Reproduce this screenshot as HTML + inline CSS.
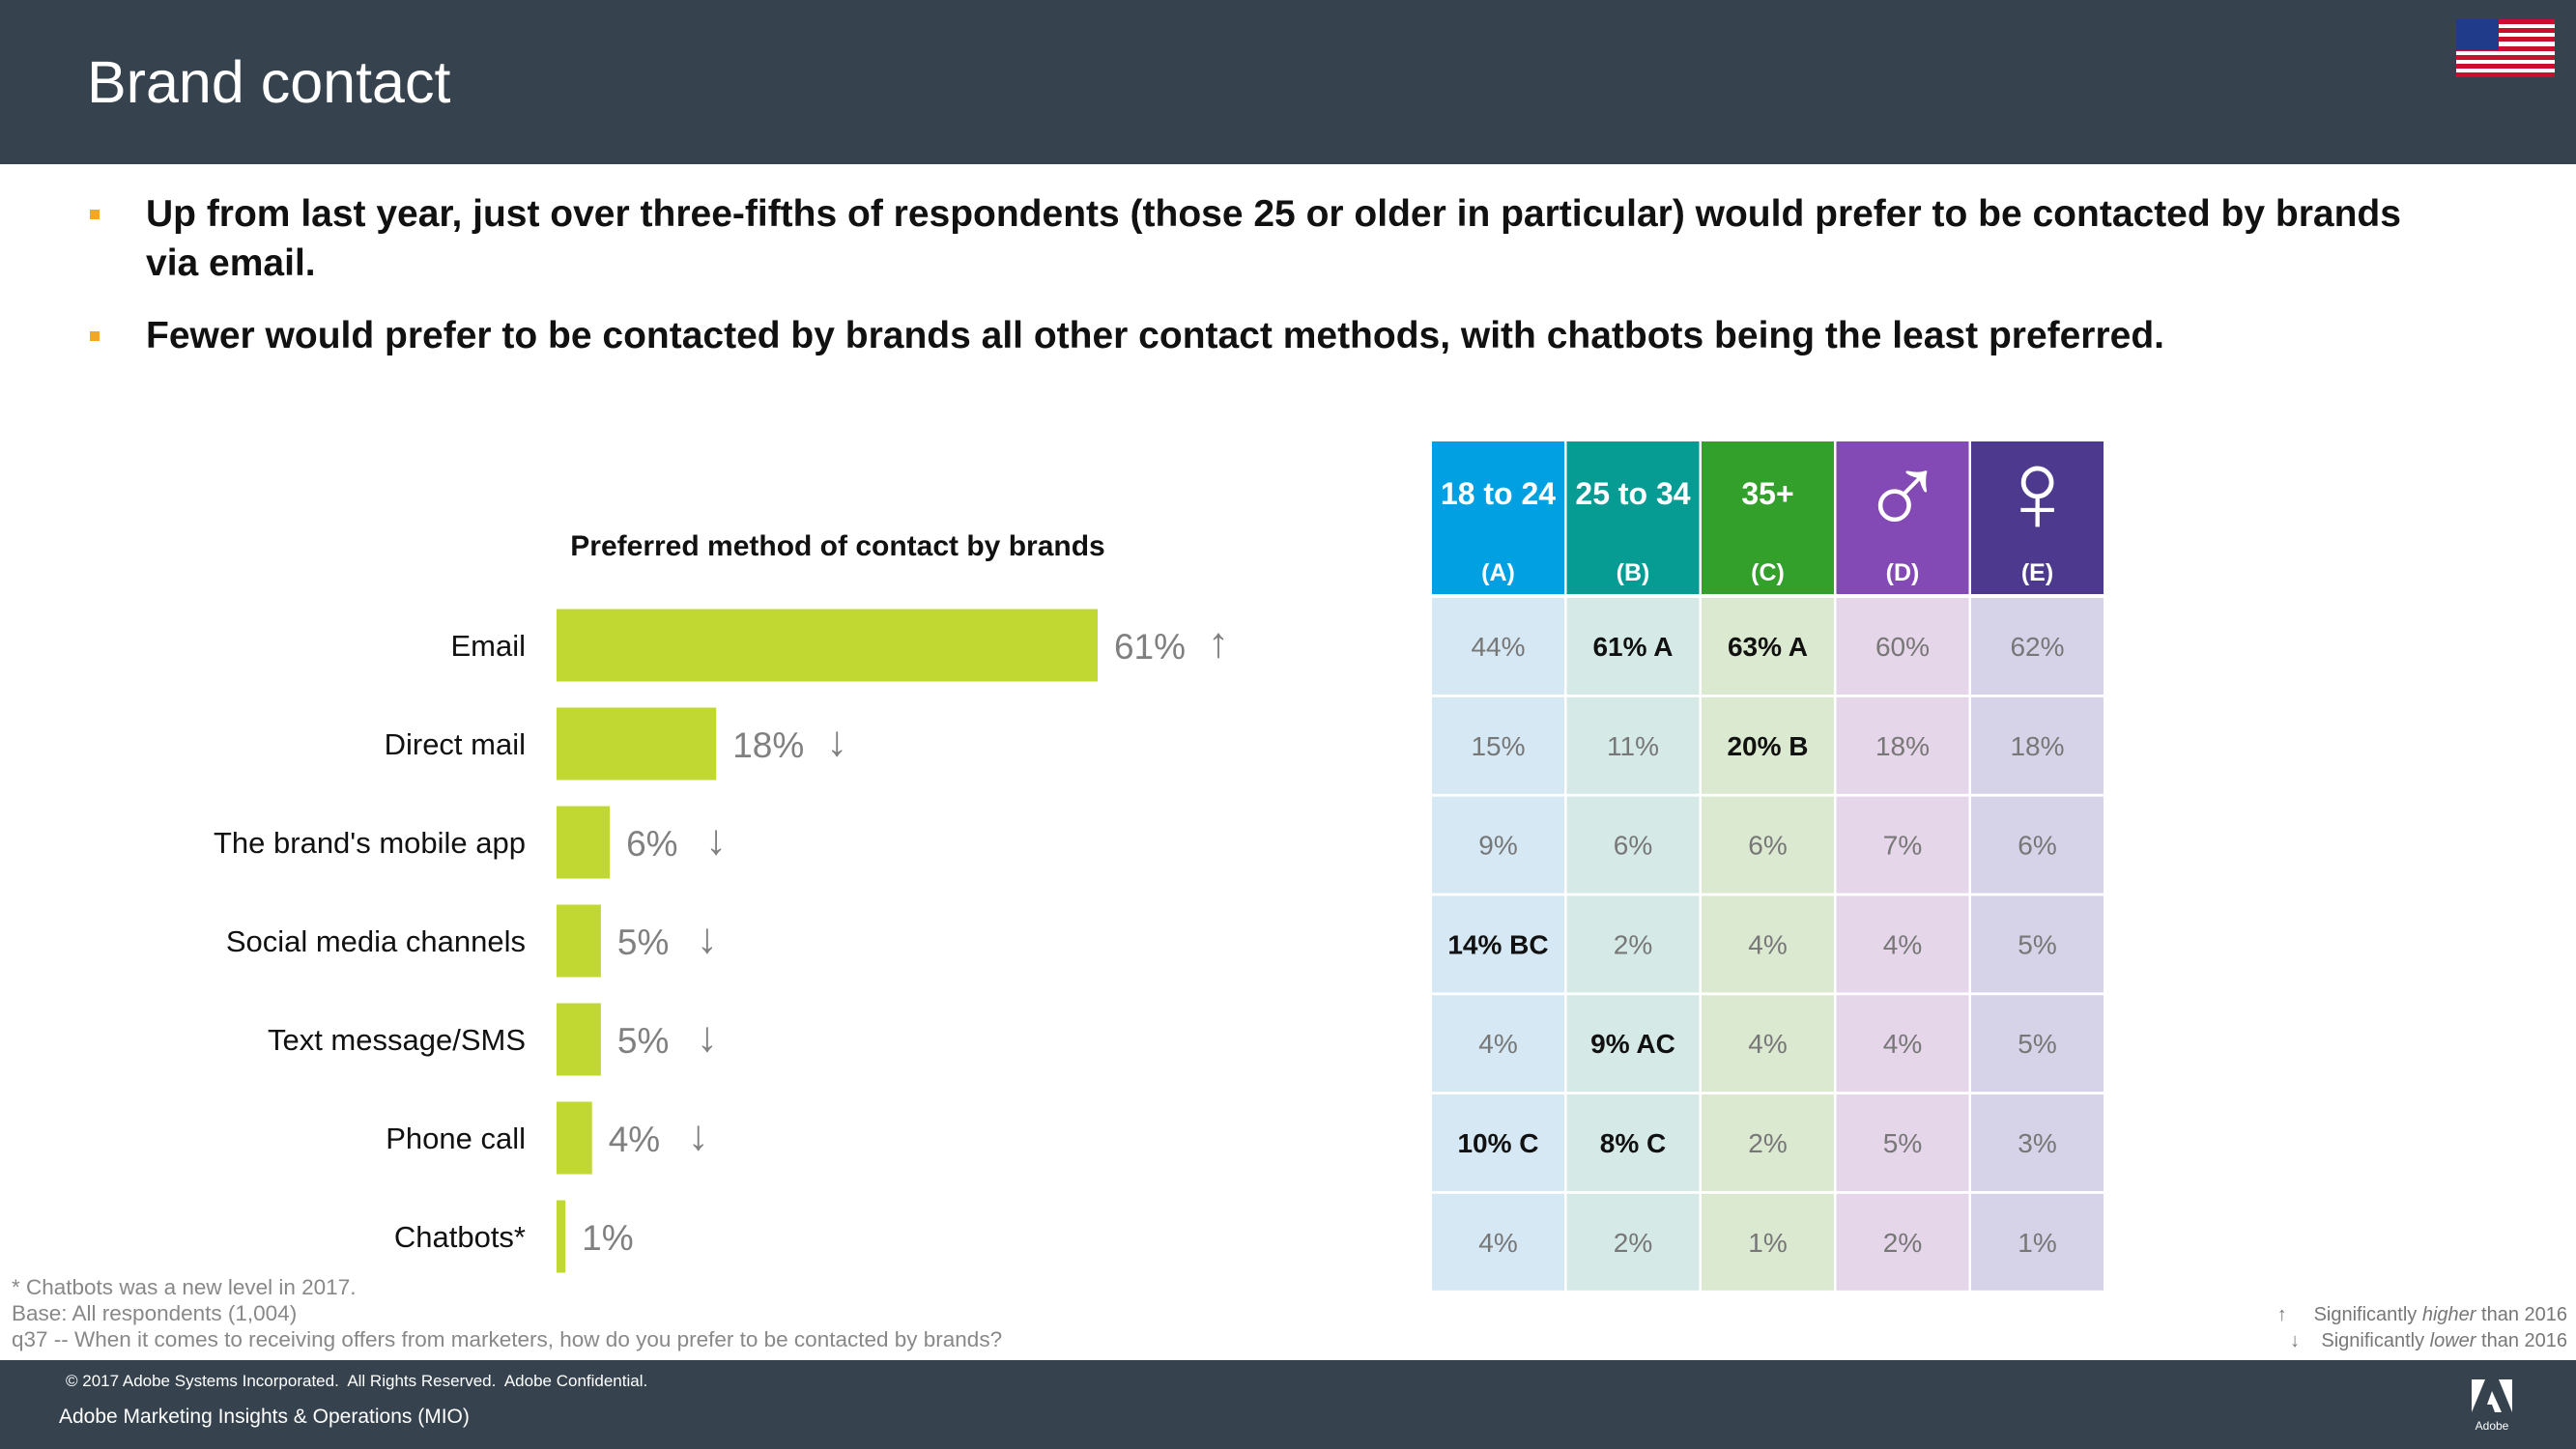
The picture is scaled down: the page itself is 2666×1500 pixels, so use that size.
<!DOCTYPE html>
<html><head><meta charset="utf-8"><style>
body{margin:0;width:2666px;height:1500px;overflow:hidden;background:#fff;font-family:"Liberation Sans",sans-serif;position:relative}
.hdr{position:absolute;left:0;top:0;width:2666px;height:170px;background:#36434e}
.ttl{position:absolute;left:90px;top:50px;font-size:61px;color:#fff}
.b{position:absolute;left:151px;font-size:39px;font-weight:bold;color:#111;line-height:51px;width:2400px}
.sq{position:absolute;left:93px;width:10px;height:10px;background:#f5a623}
.fn{position:absolute;left:12px;font-size:22.5px;color:#888}
.ftr{position:absolute;left:0;top:1408px;width:2666px;height:92px;background:#36434e;color:#fff}
</style></head><body>
<div class="hdr"></div>
<div class="ttl">Brand contact</div>
<svg style="position:absolute;left:2542px;top:20px" width="102" height="60">
<rect width="102" height="60" fill="#fff"/>
<g fill="#c8102e"><rect y="0" width="102" height="5"/><rect y="9" width="102" height="5"/><rect y="18" width="102" height="5"/><rect y="28" width="102" height="5"/><rect y="37" width="102" height="5"/><rect y="46" width="102" height="5"/><rect y="55" width="102" height="5"/></g>
<rect width="44" height="32" fill="#1f3b8a"/></svg>
<div class="sq" style="top:217px"></div>
<div class="b" style="top:196px">Up from last year, just over three-fifths of respondents (those 25 or older in particular) would prefer to be contacted by brands<br>via email.</div>
<div class="sq" style="top:343px"></div>
<div class="b" style="top:322px">Fewer would prefer to be contacted by brands all other contact methods, with chatbots being the least preferred.</div>

<svg id="ch" style="position:absolute;left:0;top:0" width="2666" height="1400"></svg>

<div class="fn" style="top:1320px">* Chatbots was a new level in 2017.</div>
<div class="fn" style="top:1347px">Base: All respondents (1,004)</div>
<div class="fn" style="top:1374px">q37 -- When it comes to receiving offers from marketers, how do you prefer to be contacted by brands?</div>
<div style="position:absolute;right:9px;top:1348px;font-size:20px;color:#777;text-align:right;line-height:27px">↑&nbsp;&nbsp;&nbsp;&nbsp; Significantly <i>higher</i> than 2016<br>↓&nbsp;&nbsp;&nbsp; Significantly <i>lower</i> than 2016</div>
<div class="ftr">
<div style="position:absolute;left:68px;top:12px;font-size:17px">© 2017 Adobe Systems Incorporated.&nbsp; All Rights Reserved.&nbsp; Adobe Confidential.</div>
<div style="position:absolute;left:61px;top:47px;font-size:21px">Adobe Marketing Insights &amp; Operations (MIO)</div>
<svg style="position:absolute;left:2558px;top:20px" width="42" height="56"><polygon points="0,0 14,0 0,34" fill="#fff"/><polygon points="28,0 42,0 42,34" fill="#fff"/><polygon points="21,12 31,34 24,34 21,26 16,26" fill="#fff"/><text x="21" y="52" font-size="12" fill="#fff" text-anchor="middle" font-family="Liberation Sans">Adobe</text></svg>
</div>
<script>
const categories=["Email","Direct mail","The brand's mobile app","Social media channels","Text message/SMS","Phone call","Chatbots*"];
const values=[61,18,6,5,5,4,1];
const trends=["↑","↓","↓","↓","↓","↓",""];
const colHeads=["18 to 24","25 to 34","35+","♂","♀"];
const colLetters=["(A)","(B)","(C)","(D)","(E)"];
const colA=["44%","15%","9%","14% BC","4%","10% C","4%"];
const colB=["61% A","11%","6%","2%","9% AC","8% C","2%"];
const colC=["63% A","20% B","6%","4%","4%","2%","1%"];
const colD=["60%","18%","7%","4%","4%","5%","2%"];
const colE=["62%","18%","6%","5%","5%","3%","1%"];
const NS="http://www.w3.org/2000/svg";
const svg=document.getElementById('ch');
function mk(t,a,txt){const e=document.createElementNS(NS,t);for(const k in a)e.setAttribute(k,a[k]);if(txt!==undefined)e.textContent=txt;svg.appendChild(e);return e;}
const x0=576,pxPer=9.18;
const xs=v=>x0+v*pxPer;
const ys=i=>668+i*102;
let t=mk('text',{x:867,y:575,'font-size':30,'font-weight':'bold','text-anchor':'middle',fill:'#111'},'Preferred method of contact by brands');


categories.forEach((c,i)=>{
 const y=ys(i);
 const l=mk('text',{x:544,y:y+11,'font-size':31,'text-anchor':'end',fill:'#111'},c);
 
 
 const r=mk('rect',{x:x0,y:y-37.5,width:xs(values[i])-x0,height:75,fill:'#c1d832'});
 
 
 const v=mk('text',{x:xs(values[i])+17,y:y+14,'font-size':37,fill:'#808080'},values[i]+'%');
 
 
 if(trends[i]){
  const a=mk('text',{x:xs(values[i])+17+(values[i]>=10?97:82),y:y+12,'font-size':44,fill:'#808080'},trends[i]);
  
  
 }
});
const hc=["#00a0e3","#069c93","#33a02c","#8349b4","#4d3a8f"];
const cc=["#d5e8f4","#d5e9e7","#dce9d1","#e5d6e9","#d6d3e8"];
const cols=[colA,colB,colC,colD,colE];
const cx=j=>1482+j*139.5;
cols.forEach((col,j)=>{
 const h=mk('rect',{x:cx(j),y:457,width:137,height:158,fill:hc[j]});
 
 
 const sym=j>=3;
 const ht=mk('text',{x:cx(j)+68.5,y:sym?550:522,'font-size':sym?120:32,'font-weight':'bold','text-anchor':'middle',fill:'#fff'},colHeads[j]);
 
 
 const lt=mk('text',{x:cx(j)+68.5,y:601,'font-size':25,'font-weight':'bold','text-anchor':'middle',fill:'#fff'},colLetters[j]);
 
 
 col.forEach((v,i)=>{
  const y=619+i*102.8;
  const c=mk('rect',{x:cx(j),y:y,width:137,height:100,fill:cc[j]});
  
  
  const bold=v.indexOf(' ')>0;
  const ct=mk('text',{x:cx(j)+68.5,y:y+60,'font-size':28,'font-weight':bold?'bold':'normal','text-anchor':'middle',fill:bold?'#111':'#777'},v);
  
  
 });
});
</script>
</body></html>
